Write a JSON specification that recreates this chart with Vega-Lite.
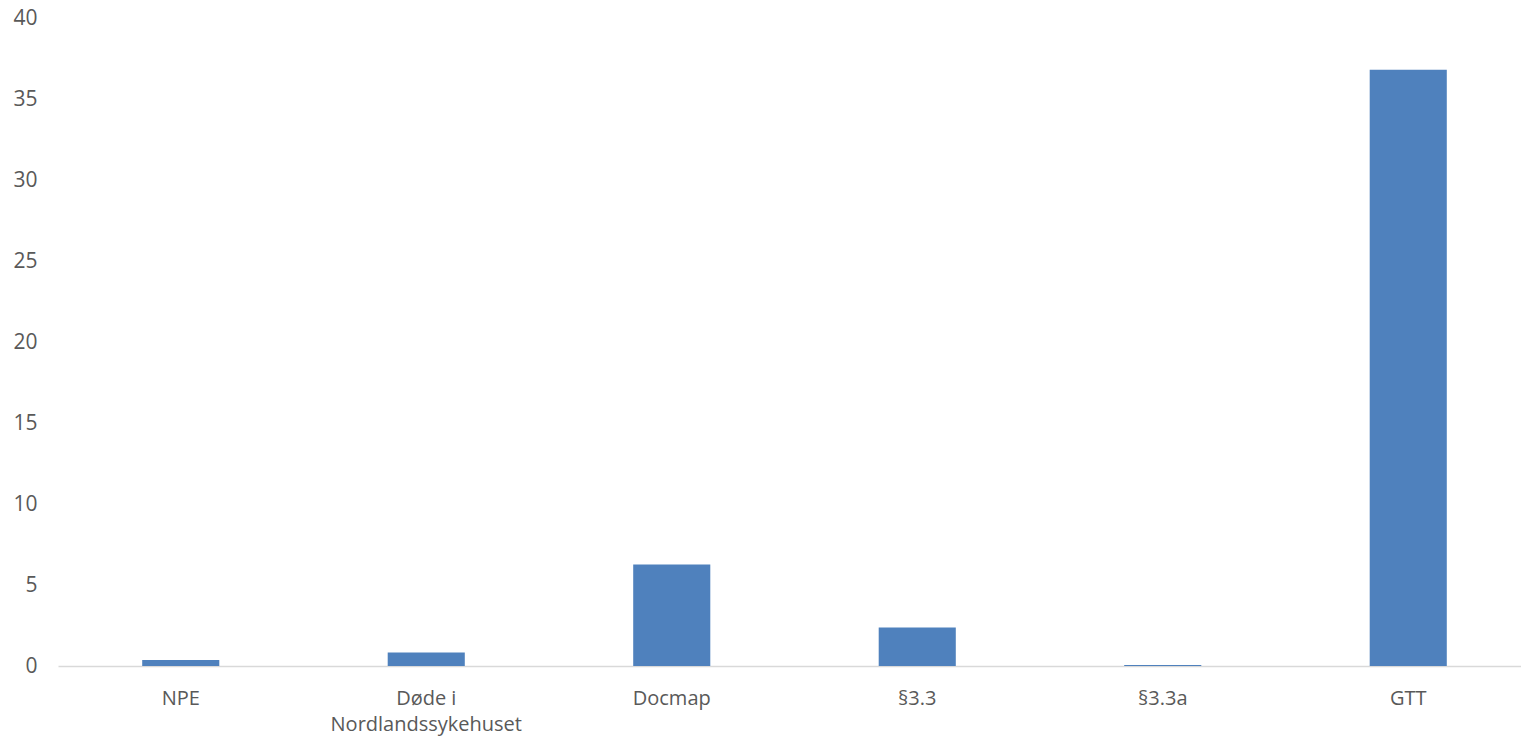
{
  "$schema": "https://vega.github.io/schema/vega-lite/v6.json",
  "autosize": "none",
  "width": 1473,
  "height": 648,
  "padding": {"left": 58, "top": 18, "right": 0, "bottom": 73},
  "background": "white",
  "data": {
    "values": [
      {"kategori": "NPE", "verdi": 0.37},
      {"kategori": "Døde i Nordlandssykehuset", "verdi": 0.83},
      {"kategori": "Docmap", "verdi": 6.27},
      {"kategori": "§3.3", "verdi": 2.37},
      {"kategori": "§3.3a", "verdi": 0.06},
      {"kategori": "GTT", "verdi": 36.8}
    ]
  },
  "mark": {"type": "bar", "color": "#4F81BD"},
  "encoding": {
    "x": {
      "field": "kategori",
      "type": "nominal",
      "sort": null,
      "title": null,
      "scale": {"paddingInner": 0.686, "paddingOuter": 0.343},
      "axis": {
        "labelAngle": 0,
        "ticks": false,
        "domainColor": "#D9D9D9",
        "domainWidth": 1.5,
        "labelColor": "#595959",
        "labelFont": "Open Sans",
        "labelFontSize": 20,
        "labelPadding": 22,
        "labelLineHeight": 26,
        "labelLimit": 0,
        "labelExpr": "datum.label == 'Døde i Nordlandssykehuset' ? ['Døde i', 'Nordlandssykehuset'] : datum.label"
      }
    },
    "y": {
      "field": "verdi",
      "type": "quantitative",
      "title": null,
      "scale": {"domain": [0, 40], "nice": false},
      "axis": {
        "values": [0, 5, 10, 15, 20, 25, 30, 35, 40],
        "grid": false,
        "ticks": false,
        "domain": false,
        "labelColor": "#595959",
        "labelFont": "Open Sans",
        "labelFontSize": 21,
        "labelPadding": 21
      }
    }
  },
  "config": {"view": {"stroke": null}}
}
